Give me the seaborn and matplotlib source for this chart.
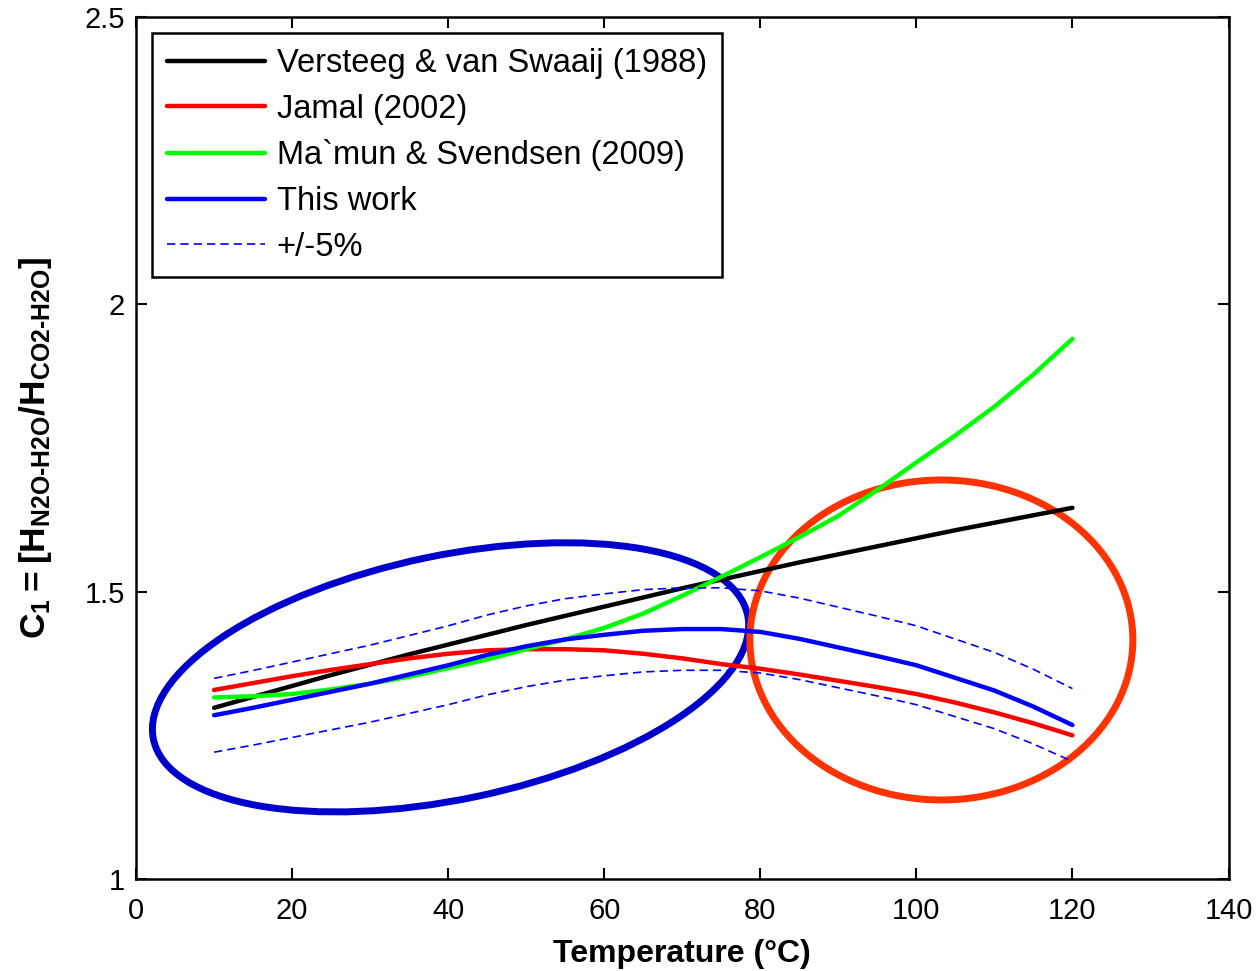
# C1 = H_N2O / H_CO2 en agua vs temperatura
import numpy as np
import pandas as pd
import seaborn as sns
import matplotlib.pyplot as plt
from matplotlib.patches import Ellipse
from matplotlib.transforms import ScaledTranslation

temps = [10, 15, 20, 25, 30, 35, 40, 45, 50, 55, 60, 65,
         70, 75, 80, 85, 90, 95, 100, 105, 110, 115, 120]
versteeg = [1.298, 1.317, 1.336, 1.355, 1.373, 1.391, 1.408, 1.425, 1.442, 1.458, 1.474, 1.490,
            1.506, 1.521, 1.536, 1.551, 1.565, 1.579, 1.593, 1.607, 1.620, 1.633, 1.646]
jamal = [1.329, 1.341, 1.353, 1.364, 1.374, 1.384, 1.392, 1.398, 1.400, 1.400, 1.398, 1.392,
         1.384, 1.374, 1.366, 1.356, 1.345, 1.334, 1.322, 1.307, 1.290, 1.271, 1.250]
mamun = [1.316, 1.318, 1.322, 1.330, 1.340, 1.352, 1.367, 1.382, 1.400, 1.417, 1.437, 1.462,
         1.493, 1.526, 1.560, 1.595, 1.632, 1.677, 1.725, 1.772, 1.822, 1.878, 1.940]
this_work = [1.285, 1.298, 1.312, 1.326, 1.340, 1.356, 1.372, 1.390, 1.405, 1.417, 1.425, 1.432,
             1.435, 1.435, 1.430, 1.418, 1.403, 1.388, 1.372, 1.350, 1.328, 1.300, 1.268]

df = pd.DataFrame({"T": temps, "versteeg": versteeg, "jamal": jamal,
                   "mamun": mamun, "this_work": this_work})
df["upper"] = df["this_work"] * 1.05
df["lower"] = df["this_work"] * 0.95

sns.set_style("ticks")
plt.rcParams["font.family"] = ["Liberation Sans", "DejaVu Sans"]
plt.rcParams["mathtext.fontset"] = "custom"
plt.rcParams["mathtext.rm"] = "Liberation Sans"
plt.rcParams["mathtext.bf"] = "Liberation Sans:bold"
for k in ["text.color", "axes.labelcolor", "xtick.color", "ytick.color", "axes.edgecolor"]:
    plt.rcParams[k] = "black"

fig = plt.figure(figsize=(12.6, 9.71), dpi=100)
ax = fig.add_axes([0.108, 0.0947, 0.867, 0.8878])

lw = 3.2
sns.lineplot(data=df, x="T", y="versteeg", color="black", lw=lw, ax=ax, label="Versteeg & van Swaaij (1988)")
sns.lineplot(data=df, x="T", y="jamal", color="#ff0000", lw=lw, ax=ax, label="Jamal (2002)")
sns.lineplot(data=df, x="T", y="mamun", color="#00ff00", lw=lw, ax=ax, label="Ma`mun & Svendsen (2009)")
sns.lineplot(data=df, x="T", y="this_work", color="#0000ff", lw=lw, ax=ax, label="This work")
sns.lineplot(data=df, x="T", y="upper", color="#0000ff", lw=1.2, ls=(0, (5, 3)), ax=ax, label="+/-5%")
sns.lineplot(data=df, x="T", y="lower", color="#0000ff", lw=1.2, ls=(0, (5, 3)), ax=ax)

# elipses de anotacion (tamano en pulgadas, centro en datos)
ell_blue = Ellipse((0, 0), 6.07, 2.44, angle=11.8, fill=False, ec="#0000cc", lw=5,
                   transform=fig.dpi_scale_trans + ScaledTranslation(40.3, 1.351, ax.transData))
ell_red = Ellipse((0, 0), 3.83, 3.20, angle=0, fill=False, ec="#ff3300", lw=5,
                  transform=fig.dpi_scale_trans + ScaledTranslation(103.2, 1.416, ax.transData))
ax.add_patch(ell_blue)
ax.add_patch(ell_red)

ax.set_xlim(0, 140)
ax.set_ylim(1, 2.5)
ax.set_xticks(np.arange(0, 141, 20))
ax.set_yticks([1, 1.5, 2, 2.5])
ax.set_yticklabels(["1", "1.5", "2", "2.5"])
ax.tick_params(direction="in", length=8, width=1.5, labelsize=21, top=True, right=True)
ax.tick_params(axis="x", pad=13)
ax.tick_params(axis="y", pad=8)
for s in ax.spines.values():
    s.set_visible(True)
    s.set_linewidth(1.8)

ax.set_xlabel("Temperature (°C)", fontsize=23, fontweight="bold", labelpad=10)
ax.set_ylabel(r"$\mathbf{C_1 = [H_{N2O‐H2O}/H_{CO2‐H2O}]}$", fontsize=25.5)
ax.yaxis.set_label_coords(-0.075, 0.5)

leg = ax.legend(loc="upper left", bbox_to_anchor=(0.0147, 0.981), borderaxespad=0,
                fontsize=23.5, frameon=True, fancybox=False, edgecolor="black", framealpha=1,
                handlelength=3.0, handletextpad=0.37, labelspacing=0.45, borderpad=0.45)
leg.get_frame().set_linewidth(1.8)

plt.savefig("out.png", dpi=100)
